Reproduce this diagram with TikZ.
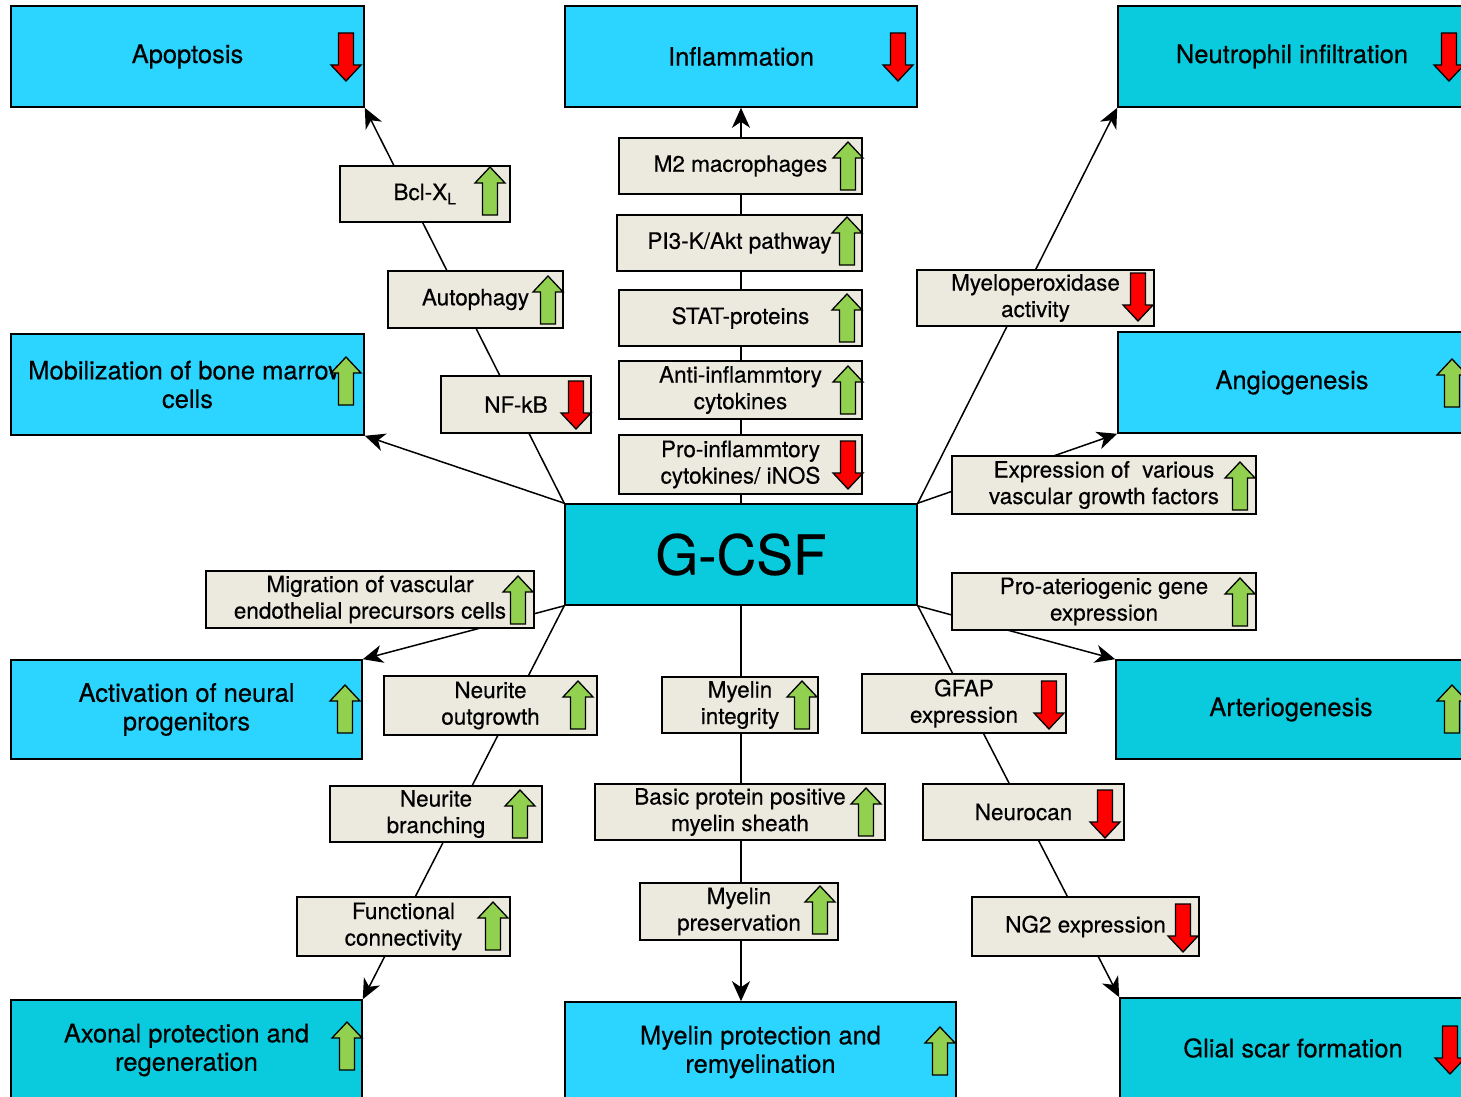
\documentclass[tikz,border=0pt]{standalone}
\usepackage{fontspec}
\setmainfont{TeX Gyre Heros}[FakeBold=0.4]
\usetikzlibrary{arrows.meta,backgrounds}
\definecolor{cyanlight}{HTML}{2CD5FF}
\definecolor{cyandark}{HTML}{0ACBDE}
\definecolor{boxbeige}{HTML}{ECEADF}
\definecolor{upgreen}{HTML}{92D050}
\definecolor{downred}{HTML}{FF0000}
\tikzset{
  upicon/.pic={\draw[fill=upgreen, line width=1.3pt] (0,-24) -- (15,-8) -- (7.5,-8) -- (7.5,24) -- (-7.5,24) -- (-7.5,-8) -- (-15,-8) -- cycle;},
  downicon/.pic={\draw[fill=downred, line width=1.3pt] (0,24) -- (15,8) -- (7.5,8) -- (7.5,-24) -- (-7.5,-24) -- (-7.5,8) -- (-15,8) -- cycle;}
}
\begin{document}
\begin{tikzpicture}[x=1pt, y=-1pt,
    bigbox/.style={draw, line width=1.6pt, align=center, inner sep=0pt, minimum width=352, minimum height=101, font=\fontsize{25.5}{28.5}\selectfont},
    smallbox/.style={draw, line width=1.6pt, fill=boxbeige, align=center, inner sep=0pt, minimum height=57, font=\fontsize{22.5}{26.5}\selectfont},
    link/.style={line width=1.5pt},
    linkarr/.style={line width=1.5pt, -{Stealth[length=20pt, width=18pt, inset=6pt]}}]
  \useasboundingbox (0,0) rectangle (1461,1097);
  \clip (0,0) rectangle (1461,1097);
  \node[bigbox, fill=cyanlight, minimum width=353] (apop) at (187.5,56.5) {Apoptosis};
  \node[bigbox, fill=cyanlight] (infl) at (741,56.5) {Inflammation};
  \node[bigbox, fill=cyandark, minimum width=348] (neut) at (1292,56.5) {Neutrophil infiltration};
  \node[bigbox, fill=cyanlight, minimum width=353] (mobil) at (187.5,384.5) {Mobilization of bone marrow\\cells};
  \node[bigbox, fill=cyanlight, minimum width=348] (angio) at (1292,382.5) {Angiogenesis};
  \node[bigbox, fill=cyandark, font=\fontsize{55}{60}\selectfont] (gcsf) at (741,554.5) {G-CSF};
  \node[bigbox, fill=cyanlight, minimum width=351, minimum height=99] (activ) at (186.5,709.5) {Activation of neural\\progenitors};
  \node[bigbox, fill=cyandark, minimum width=350, minimum height=99] (arterio) at (1291,709.5) {Arteriogenesis};
  \node[bigbox, fill=cyandark, minimum width=351, minimum height=100] (axon) at (186.5,1050) {Axonal protection and\\regeneration};
  \node[bigbox, fill=cyanlight, minimum width=391, minimum height=100] (myprot) at (760.5,1052) {Myelin protection and\\remyelination};
  \node[bigbox, fill=cyandark, minimum width=346, minimum height=100] (glial) at (1293,1048) {Glial scar formation};

  \node[smallbox, minimum width=170, minimum height=56] (bcl) at (425,194) {Bcl-X\textsubscript{L}};
  \node[smallbox, minimum width=175] (autoph) at (475.5,299.5) {Autophagy};
  \node[smallbox, minimum width=150] (nfkb) at (516,404.5) {NF-kB};
  \node[smallbox, minimum width=243, minimum height=56] (mtwo) at (740.5,166) {M2 macrophages};
  \node[smallbox, minimum width=245, minimum height=56] (pik) at (739.5,243) {PI3-K/Akt pathway};
  \node[smallbox, minimum width=243, minimum height=56] (stat) at (740.5,318) {STAT-proteins};
  \node[smallbox, minimum width=243, minimum height=58] (antiinf) at (740.5,390) {Anti-inflammtory\\cytokines};
  \node[smallbox, minimum width=243, minimum height=59] (proinf) at (740.5,464.5) {Pro-inflammtory\\cytokines/ iNOS};
  \node[smallbox, minimum width=237, minimum height=56] (mpo) at (1035.5,298) {Myeloperoxidase\\activity};
  \node[smallbox, minimum width=304, minimum height=58] (vgf) at (1104,485) {Expression of~ various\\vascular growth factors};
  \node[smallbox, minimum width=304] (artgene) at (1104,601.5) {Pro-ateriogenic gene\\expression};
  \node[smallbox, minimum width=328] (migr) at (370,599.5) {Migration of vascular\\endothelial precursors cells};
  \node[smallbox, minimum width=213, minimum height=59] (nout) at (490.5,705.5) {Neurite\\outgrowth};
  \node[smallbox, minimum width=156, minimum height=56] (myint) at (740,705) {Myelin\\integrity};
  \node[smallbox, minimum width=204, minimum height=59] (gfap) at (964,703.5) {GFAP\\expression};
  \node[smallbox, minimum width=212, minimum height=56] (nbranch) at (436,814) {Neurite\\branching};
  \node[smallbox, minimum width=290, minimum height=56] (mbp) at (740,812) {Basic protein positive\\myelin sheath};
  \node[smallbox, minimum width=201, minimum height=56] (ncan) at (1023.5,812) {Neurocan};
  \node[smallbox, minimum width=213, minimum height=59] (fconn) at (403.5,926.5) {Functional\\connectivity};
  \node[smallbox, minimum width=198] (mypres) at (739,911.5) {Myelin\\preservation};
  \node[smallbox, minimum width=227, minimum height=59] (ngtwo) at (1085.5,926.5) {NG2 expression};

  \pic at (346,57) {downicon};
  \pic at (898,57) {downicon};
  \pic at (1449,57) {downicon};
  \pic at (346,381) {upicon};
  \pic at (1452,383) {upicon};
  \pic at (345,709) {upicon};
  \pic at (1452,709) {upicon};
  \pic at (347,1046) {upicon};
  \pic at (940,1051) {upicon};
  \pic at (1450,1050) {downicon};
  \pic at (490,191) {upicon};
  \pic at (548,300) {upicon};
  \pic at (576,405) {downicon};
  \pic at (848,166) {upicon};
  \pic at (847,241) {upicon};
  \pic at (847,318) {upicon};
  \pic at (848,390) {upicon};
  \pic at (848,465) {downicon};
  \pic at (1138,297) {downicon};
  \pic at (1240,486) {upicon};
  \pic at (1240,602) {upicon};
  \pic at (518,600) {upicon};
  \pic at (578,705) {upicon};
  \pic at (802,705) {upicon};
  \pic at (1049,705) {downicon};
  \pic at (520,814) {upicon};
  \pic at (866,812) {upicon};
  \pic at (1105,814) {downicon};
  \pic at (493,926) {upicon};
  \pic at (820,910) {upicon};
  \pic at (1183,928) {downicon};

  \begin{pgfonlayer}{background}
    \draw[linkarr] (gcsf.north west) -- (apop.south east);
    \draw[linkarr] (gcsf.north west) -- (mobil.south east);
    \draw[linkarr] (gcsf.north) -- (infl.south);
    \draw[linkarr] (gcsf.north east) -- (neut.south west);
    \draw[linkarr] (gcsf.north east) -- (angio.south west);
    \draw[linkarr] (gcsf.south east) -- (arterio.north west);
    \draw[linkarr] (gcsf.south east) -- (glial.north west);
    \draw[linkarr] (gcsf.south) -- (gcsf.south |- myprot.north);
    \draw[linkarr] (gcsf.south west) -- (axon.north east);
    \draw[linkarr] (gcsf.south west) -- (activ.north east);
  \end{pgfonlayer}
\end{tikzpicture}
\end{document}
